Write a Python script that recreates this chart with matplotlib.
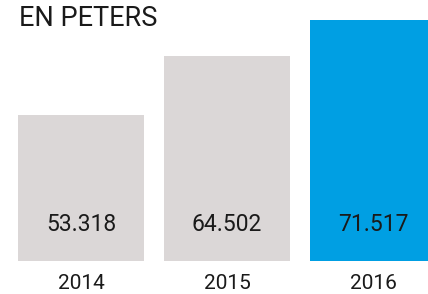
import matplotlib.pyplot as plt

years = ["2014", "2015", "2016"]
values = [53.318, 64.502, 71.517]
labels = ["53.318", "64.502", "71.517"]
colors = ["#dbd7d7", "#dbd7d7", "#009fe3"]

fig = plt.figure(figsize=(4.28, 2.94), dpi=100)
ax = fig.add_axes([0, 33 / 294, 1, 261 / 294])

x = range(len(values))
ax.bar(x, values, width=0.863, color=colors)
ax.set_xlim(-0.555, 2.377)
ax.set_ylim(25.36, 75.29)
ax.axis("off")

for i, lab in enumerate(labels):
    ax.text(i, 25.36 + 36 / 5.227, lab, ha="center", va="center",
            fontsize=16.5, family="Roboto", color="#1a1a1a")
    ax.text(i, 25.36 - 22 / 5.227, years[i], ha="center", va="center",
            fontsize=15, family="Roboto", color="#1a1a1a", clip_on=False)

fig.text(19 / 428, 1 - 19 / 294, "EN PETERS", ha="left", va="center",
         fontsize=19.5, family="Roboto", color="#1a1a1a")

fig.savefig("out.png", dpi=100)
